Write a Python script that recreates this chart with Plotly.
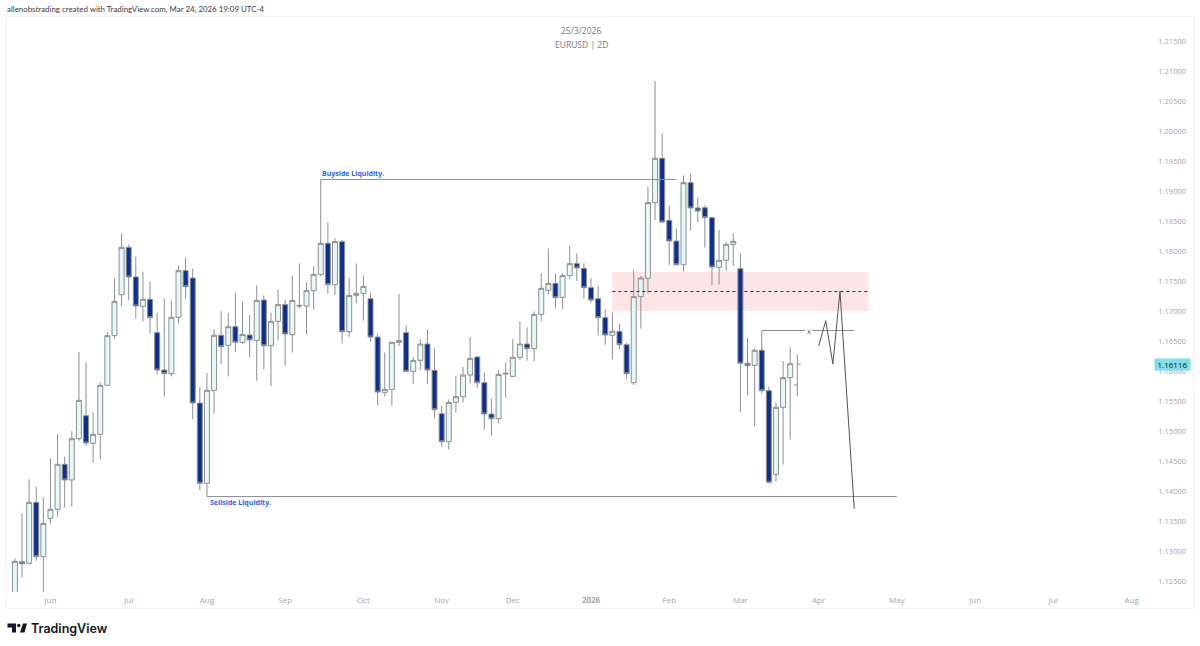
import plotly.graph_objects as go

W, H = 1200, 646
PLOT_L, PLOT_R, PLOT_T, PLOT_B = 7, 1193, 17, 592

# one entry per 2D bar, oldest first
opens = [1.1228, 1.12822, 1.12795, 1.13811, 1.12906, 1.13545, 1.13695, 1.14445, 1.14184, 1.14872,
         1.15256, 1.14795, 1.14945, 1.15761, 1.16589, 1.17272, 1.18061, 1.17567, 1.17078, 1.17195,
         1.16639, 1.16017, 1.15956, 1.16895, 1.17673, 1.1755, 1.15467, 1.14128, 1.15678, 1.16595,
         1.16428, 1.16739, 1.16478, 1.166, 1.16511, 1.17184, 1.16422, 1.16828, 1.17106, 1.16606,
         1.17095, 1.17083, 1.17339, 1.17611, 1.18128, 1.17439, 1.18156, 1.16655, 1.17261, 1.17294,
         1.17205, 1.16566, 1.15644, 1.15694, 1.16478, 1.16639, 1.15994, 1.16178, 1.1645, 1.16011,
         1.15289, 1.14822, 1.15477, 1.15572, 1.15933, 1.16233, 1.15805, 1.15283, 1.15205, 1.1595,
         1.15911, 1.16228, 1.1645, 1.16372, 1.16944, 1.17344, 1.17461, 1.17228, 1.17589, 1.17789,
         1.17711, 1.17389, 1.17206, 1.16889, 1.16595, 1.16661, 1.16439, 1.15806, 1.17239, 1.17545,
         1.18806, 1.19545, 1.18511, 1.18167, 1.17772, 1.19139, 1.18717, 1.18722, 1.18556, 1.17728,
         1.17845, 1.18106, 1.17706, 1.16128, 1.16095, 1.16345, 1.15672, 1.14278, 1.15395, 1.15889,
         1.15767]
highs = [1.12878, 1.13628, 1.14195, 1.14073, 1.13895, 1.14545, 1.1495, 1.14573, 1.15, 1.16317,
         1.16145, 1.15311, 1.15811, 1.16645, 1.17539, 1.18295, 1.18106, 1.17906, 1.17656, 1.17495,
         1.16978, 1.17211, 1.17178, 1.17756, 1.17889, 1.17706, 1.15728, 1.15972, 1.16695, 1.16995,
         1.16972, 1.17306, 1.17156, 1.16934, 1.17428, 1.17261, 1.16972, 1.17361, 1.17184, 1.17595,
         1.17794, 1.17472, 1.1775, 1.1816, 1.18478, 1.18211, 1.18183, 1.17544, 1.17794, 1.17594,
         1.17305, 1.16616, 1.16311, 1.1649, 1.17283, 1.16761, 1.16239, 1.16528, 1.16694, 1.16378,
         1.15416, 1.15528, 1.15916, 1.16066, 1.16566, 1.1625, 1.15978, 1.15533, 1.16016, 1.16144,
         1.16533, 1.16828, 1.16728, 1.16994, 1.17628, 1.18039, 1.17628, 1.17628, 1.18083, 1.17961,
         1.17795, 1.17545, 1.17428, 1.17028, 1.16989, 1.16784, 1.16472, 1.17683, 1.17583, 1.19072,
         1.20834, 1.19961, 1.1875, 1.18378, 1.19261, 1.19289, 1.18895, 1.18767, 1.18567, 1.1835,
         1.18145, 1.18295, 1.17961, 1.1655, 1.16378, 1.16378, 1.15739, 1.15478, 1.16167, 1.16395,
         1.16278]
lows = [1.1215, 1.12561, 1.12778, 1.12839, 1.1228, 1.13456, 1.13572, 1.13722, 1.13739, 1.14839,
        1.1475, 1.14472, 1.14528, 1.1575, 1.16539, 1.17078, 1.17178, 1.16872, 1.16828, 1.16628,
        1.15939, 1.15572, 1.15911, 1.16795, 1.172, 1.15195, 1.14017, 1.1405, 1.15289, 1.16111,
        1.15911, 1.16322, 1.1645, 1.16228, 1.15839, 1.16028, 1.1575, 1.16517, 1.16089, 1.16306,
        1.17044, 1.16605, 1.17022, 1.17583, 1.17289, 1.17267, 1.16461, 1.16572, 1.17128, 1.16839,
        1.16489, 1.15428, 1.15572, 1.15428, 1.16416, 1.15994, 1.15783, 1.16016, 1.15789, 1.15216,
        1.14739, 1.14694, 1.15305, 1.15477, 1.15794, 1.15722, 1.15028, 1.14922, 1.15128, 1.15561,
        1.15905, 1.16183, 1.16172, 1.16161, 1.16828, 1.17272, 1.17039, 1.17033, 1.17528, 1.175,
        1.17206, 1.17139, 1.16595, 1.16439, 1.16195, 1.16361, 1.15861, 1.15767, 1.16706, 1.17295,
        1.18517, 1.18472, 1.17767, 1.17761, 1.17661, 1.18339, 1.18478, 1.18056, 1.17428, 1.17439,
        1.17672, 1.1775, 1.15317, 1.15595, 1.15083, 1.15628, 1.14128, 1.14161, 1.14439, 1.14861,
        1.15583]
closes = [1.12828, 1.12789, 1.13811, 1.12906, 1.13461, 1.13695, 1.14445, 1.14184, 1.14872, 1.15511,
          1.148, 1.14945, 1.15761, 1.16589, 1.17161, 1.18061, 1.17567, 1.17084, 1.17195, 1.16889,
          1.16017, 1.15956, 1.16895, 1.17673, 1.17406, 1.15467, 1.14128, 1.15678, 1.16595, 1.16406,
          1.16739, 1.16478, 1.16611, 1.16517, 1.17178, 1.16422, 1.16828, 1.17106, 1.16617, 1.17178,
          1.17085, 1.17339, 1.17611, 1.18128, 1.17439, 1.18156, 1.16655, 1.17261, 1.17294, 1.17411,
          1.16566, 1.1565, 1.15694, 1.16478, 1.16511, 1.15994, 1.16178, 1.1645, 1.16016, 1.15355,
          1.14822, 1.15477, 1.15572, 1.15933, 1.16211, 1.15805, 1.15283, 1.15205, 1.15944, 1.15961,
          1.16228, 1.1645, 1.16372, 1.16944, 1.17378, 1.17461, 1.17222, 1.17589, 1.17789, 1.17717,
          1.17389, 1.17183, 1.16889, 1.166, 1.16661, 1.16439, 1.15956, 1.17239, 1.1755, 1.18806,
          1.19545, 1.18483, 1.18167, 1.17772, 1.19139, 1.18717, 1.18667, 1.18556, 1.17733, 1.17845,
          1.18111, 1.18161, 1.16128, 1.16089, 1.16345, 1.15672, 1.14145, 1.15395, 1.15889, 1.16122,
          1.16116]
bars = list(range(len(opens)))

month_bars = [5, 16, 27, 38, 49, 60, 70, 81, 92, 102, 113, 124, 135, 146, 157]
month_labels = ['Jun', 'Jul', 'Aug', 'Sep', 'Oct', 'Nov', 'Dec', '<b>2026</b>', 'Feb', 'Mar',
                'Apr', 'May', 'Jun', 'Jul', 'Aug']

buyside_x = [43, 43, 93]
buyside_y = [1.18128, 1.19192, 1.19192]
sellside_x = [27, 27, 124]
sellside_y = [1.1405, 1.13908, 1.13908]
zone_x = [84, 120]
zone_y = [1.17, 1.1765]
zone_mid = 1.17325
choch_x = [105, 105, 111.1]
choch_y = [1.16345, 1.16675, 1.16675]
choch_tail_x = [112.2, 118]
mark_x = 111.6
path_x = [113, 114, 115, 116, 118]
path_y = [1.16417, 1.16838, 1.16117, 1.17328, 1.13705]
last_price = 1.16116

UP_FILL = '#e6f8f8'
DOWN_FILL = '#0d2f91'
WICK = '#8c9090'


def px_x(x):
    return (x - PLOT_L) / (PLOT_R - PLOT_L)


def px_y(y):
    return (PLOT_B - y) / (PLOT_B - PLOT_T)


def page_rect(x0, y0, x1, y1, **kwargs):
    return dict(type='rect', xref='paper', yref='paper', x0=px_x(x0), x1=px_x(x1),
                y0=px_y(y0), y1=px_y(y1), **kwargs)


def page_path(points, color):
    path = 'M ' + ' L '.join(f'{px_x(x):.5f} {px_y(y):.5f}' for x, y in points) + ' Z'
    return dict(type='path', xref='paper', yref='paper', path=path,
                fillcolor=color, line=dict(width=0))


def page_text(x, y, text, size, color, anchor='left', family='Open Sans', weight=None):
    return dict(xref='paper', yref='paper', x=px_x(x), y=px_y(y), text=text, showarrow=False,
                xanchor=anchor, yanchor='middle', align=anchor,
                font=dict(family=family, size=size, color=color, weight=weight))


def line_trace(xs, ys, color=WICK, width=1, dash='solid'):
    return go.Scatter(x=xs, y=ys, mode='lines', hoverinfo='skip', showlegend=False,
                      line=dict(color=color, width=width, dash=dash))


fig = go.Figure()

fig.add_trace(go.Candlestick(
    x=bars[:-1], open=opens[:-1], high=highs[:-1], low=lows[:-1], close=closes[:-1],
    whiskerwidth=0, showlegend=False,
    increasing=dict(fillcolor=UP_FILL, line=dict(color=WICK, width=1)),
    decreasing=dict(fillcolor=DOWN_FILL, line=dict(color=WICK, width=1)),
))
# the newest bar is only ticks in the snapshot, no body
fig.add_trace(go.Ohlc(
    x=bars[-1:], open=opens[-1:], high=highs[-1:], low=lows[-1:], close=closes[-1:],
    tickwidth=0.5, showlegend=False,
    increasing=dict(line=dict(color=WICK, width=1)),
    decreasing=dict(line=dict(color=WICK, width=1)),
))

fig.add_trace(line_trace(buyside_x, buyside_y))
fig.add_trace(line_trace(sellside_x, sellside_y))
fig.add_trace(line_trace(zone_x, [zone_mid, zone_mid], color='#333333', width=1, dash='3px,3px'))
fig.add_trace(line_trace(choch_x, choch_y))
fig.add_trace(line_trace(choch_tail_x, [choch_y[-1], choch_y[-1]]))
fig.add_trace(line_trace(path_x, path_y, color='#555555'))

shapes = [
    dict(type='rect', xref='x', yref='y', x0=zone_x[0], x1=zone_x[1], y0=zone_y[0], y1=zone_y[1],
         fillcolor='#fde4e6', line=dict(width=0), layer='below'),
    page_rect(6.5, 16.5, 1193.5, 608.5, line=dict(color='#f0f3fa', width=1), layer='below'),
    # TradingView mark
    page_path([(7.5, 623.5), (16, 623.5), (16, 632.5), (12, 632.5), (12, 627.5), (7.5, 627.5)], '#131722'),
    page_path([(20, 632.5), (23, 623.5), (27, 623.5), (24.5, 632.5)], '#131722'),
    dict(type='circle', xref='paper', yref='paper', x0=px_x(17), x1=px_x(20.5),
         y0=px_y(627.3), y1=px_y(623.7), fillcolor='#131722', line=dict(width=0)),
]

annotations = [
    page_text(5, 9, 'allenobstrading created with TradingView.com, Mar 24, 2026 19:09 UTC-4', 7.9, '#3a3d45',
              family='Lato'),
    page_text(581, 30, '25/3/2026', 8.5, '#777a82', anchor='center'),
    page_text(581, 45, 'EURUSD | 2D', 8.5, '#777a82', anchor='center'),
    page_text(29, 628, 'TradingView', 12.5, '#131722', family='Inter', weight=600),
    dict(x=buyside_x[0] - 0.1, y=1.193, text='Buyside Liquidity.', showarrow=False, xanchor='left',
         yanchor='middle', font=dict(family='Open Sans', size=7, color='#2962ff', weight=700)),
    dict(x=sellside_x[0] + 0.1, y=1.13817, text='Sellside Liquidity.', showarrow=False, xanchor='left',
         yanchor='middle', font=dict(family='Open Sans', size=7, color='#2962ff', weight=700)),
    dict(x=mark_x, y=choch_y[-1], text='x', showarrow=False, xanchor='center', yanchor='middle',
         font=dict(family='Open Sans', size=7.5, color='#555555')),
    dict(xref='paper', x=px_x(1172.8), y=last_price, text=f'{last_price:.5f}', showarrow=False,
         xanchor='center', yanchor='middle', bgcolor='#7fe0ea', borderpad=0, width=35, height=11,
         font=dict(family='Open Sans', size=8, color='#131722')),
]

fig.update_layout(
    width=W, height=H, autosize=False,
    margin=dict(l=PLOT_L, r=W - PLOT_R, t=PLOT_T, b=H - PLOT_B, pad=0),
    paper_bgcolor='white', plot_bgcolor='white',
    showlegend=False, shapes=shapes, annotations=annotations,
    boxgap=0.3, boxgroupgap=0,
    xaxis=dict(range=[-1.11, 165.63], rangeslider=dict(visible=False), showgrid=False, zeroline=False,
               showline=False, ticks='', tickmode='array', tickvals=month_bars, ticktext=month_labels,
               tickfont=dict(family='Open Sans', size=8, color='#a4a7b0'), ticklabelstandoff=2),
    yaxis=dict(range=[1.12317, 1.219], side='right', ticklabelposition='inside', showgrid=False,
               zeroline=False, showline=False, ticks='', tick0=1.125, dtick=0.005, tickformat='.5f',
               tickfont=dict(family='Open Sans', size=7.5, color='#a4a7b0'), ticklabelstandoff=4),
)

fig.write_html("out.html", config={'displayModeBar': False},
               post_script="document.body.style.margin='0';")
